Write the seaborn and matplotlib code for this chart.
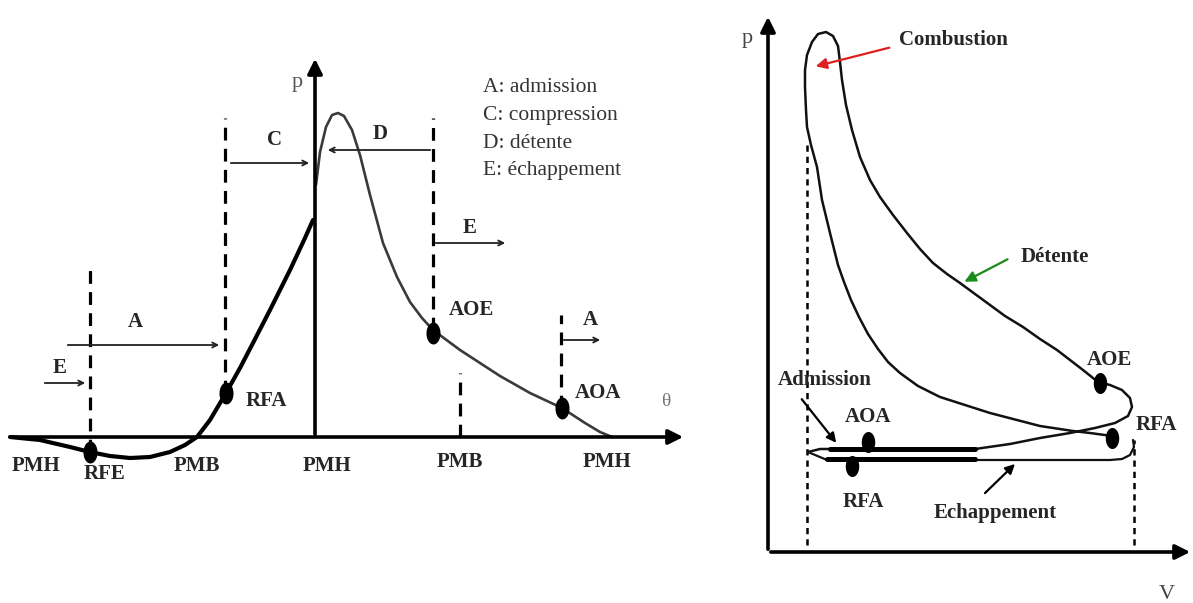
import numpy as np
import matplotlib
matplotlib.use('Agg')
import matplotlib.pyplot as plt
from matplotlib.path import Path
import seaborn as sns

# ---------------- left panel: p(theta), theta axis at p = 0 ----------------
INTAKE_THETA = [10, 40, 70, 90, 110, 130, 150, 170, 185, 197, 210, 226, 240, 253, 270, 290, 305, 313]
INTAKE_P     = [0, -3, -10, -15, -19, -21, -20, -15, -8, 0, 17, 44, 69, 94, 127, 167, 199, 217]
EXPAN_THETA  = [316, 320, 326, 332, 338, 344, 352, 360, 370, 383, 397, 410, 422, 433, 460, 500, 530, 562, 585, 600, 612]
EXPAN_P      = [252, 285, 310, 322, 324, 321, 307, 282, 242, 194, 160, 135, 119, 107, 87, 61, 44, 29, 14, 5, 0]

EVENT_NAMES = ['RFE', 'RFA', 'AOE', 'AOA']
EVENT_THETA = [90, 226, 433, 562]
EVENT_P     = [-15, 44, 104, 29]
EVENT_TXT   = [(105, -37), (266, 36), (471, 127), (598, 44)]

GUIDE_THETA = [90, 225, 433, 460, 561]
GUIDE_LOW   = [-15, 44, 107, 0, 29]
GUIDE_HIGH  = [169, 319, 319, 64, 122]

PHASE_LABELS = ['E', 'A', 'C', 'D', 'E', 'A']
PHASE_START  = [42, 65, 228, 433, 433, 561]
PHASE_END    = [88, 222, 312, 325, 508, 603]
PHASE_P      = [54, 92, 274, 287, 194, 97]
PHASE_TXT    = [(60, 69), (135, 115), (275, 297), (380, 303), (470, 209), (590, 117)]

DEAD_LABELS = ['PMH', 'PMB', 'PMH', 'PMB', 'PMH']
DEAD_THETA  = [36, 197, 327, 460, 607]
DEAD_P      = [-29, -29, -29, -25, -25]

LEGEND_LINES = ['A: admission', 'C: compression', 'D: détente', 'E: échappement']

# ---------------- right panel: p(V) indicator diagram ----------------
LOOP_V = [344, 322, 305, 272, 222, 172, 150, 132, 120, 110, 100, 91, 83, 76, 70, 62, 54, 49, 43, 39, 38, 37,
          37, 39, 44, 50, 58, 65, 70, 72, 74, 78, 84, 92, 102, 112, 125, 139, 152, 165, 179, 192,
          207, 222, 237, 255, 272, 289, 302, 315, 330,
          342, 354, 362, 364, 360, 347, 327, 302, 272, 242, 207, 132, 52, 40]
LOOP_P = [116, 119, 121, 126, 139, 155, 166, 179, 190, 203, 218, 235, 252, 270, 287, 319, 352, 385, 407, 425, 442, 465,
          482, 497, 510, 518, 520, 516, 506, 490, 472, 447, 422, 395, 372, 355, 337, 319, 303, 289, 278, 269,
          258, 247, 236, 225, 213, 202, 192, 182, 170,
          167, 162, 154, 145, 136, 129, 124, 119, 114, 108, 103, 103, 103, 100]
LOWER_V = [40, 59, 207, 342, 354, 362, 366, 365]
LOWER_P = [100, 92, 92, 92, 93, 97, 105, 112]
THICK_V = [[62, 207], [59, 207]]
THICK_P = [[103, 103], [93, 93]]

PV_EVENTS = ['AOA', 'RFA', 'AOE', 'RFA']
PV_EV_V   = [100, 84, 332, 344]
PV_EV_P   = [110, 86, 169, 114]
PV_EV_TXT = [(100, 135), (95, 50), (341, 192), (388, 127)]

PV_GUIDE_V    = [39, 366]
PV_GUIDE_HIGH = [412, 112]


def ellipse_marker():
    t = np.linspace(0, 2 * np.pi, 40)
    return Path(np.column_stack([0.64 * np.cos(t), np.sin(t)]), closed=True)


def line(ax, x, y, color='black', lw=2.0):
    sns.lineplot(x=x, y=y, sort=False, estimator=None, color=color,
                 linewidth=lw, legend=False, ax=ax)


sns.set_style('white')
plt.rcParams['font.family'] = ['Liberation Serif', 'DejaVu Serif']

fig = plt.figure(figsize=(11.93, 6.03), dpi=100)
ax1 = fig.add_axes([0, 0, 700 / 1193, 1])
ax2 = fig.add_axes([700 / 1193, 0, 493 / 1193, 1])
ax1.set_xlim(0, 700); ax1.set_ylim(-166, 437)
ax2.set_xlim(-68, 425); ax2.set_ylim(-51, 552)
for ax in (ax1, ax2):
    ax.axis('off')

bold = dict(fontsize=15, fontweight='bold', ha='center', va='center')
arrow_ax = dict(arrowstyle='-|>', color='black', lw=2.6, mutation_scale=22)

# ---- left panel
ax1.annotate('', xy=(686, 0), xytext=(8, 0), arrowprops=arrow_ax)
ax1.annotate('', xy=(315, 381), xytext=(315, 0), arrowprops=arrow_ax)
ax1.vlines(GUIDE_THETA, GUIDE_LOW, GUIDE_HIGH, colors='black', lw=2.3,
           linestyles=(0, (4, 2.6)))
line(ax1, INTAKE_THETA, INTAKE_P, lw=3.0)
line(ax1, EXPAN_THETA, EXPAN_P, color='#3a3a3a', lw=1.9)
sns.scatterplot(x=EVENT_THETA, y=EVENT_P, marker=ellipse_marker(), s=250,
                color='black', linewidth=0, ax=ax1, zorder=5)
for s0, s1, p in zip(PHASE_START, PHASE_END, PHASE_P):
    ax1.annotate('', xy=(s1, p), xytext=(s0, p),
                 arrowprops=dict(arrowstyle='->', color='#222', lw=1.3, mutation_scale=9))
for lab, (tx, ty) in zip(PHASE_LABELS, PHASE_TXT):
    ax1.text(tx, ty, lab, **bold)
for lab, tx, ty in zip(DEAD_LABELS, DEAD_THETA, DEAD_P):
    ax1.text(tx, ty, lab, **bold)
for lab, (tx, ty) in zip(EVENT_NAMES, EVENT_TXT):
    ax1.text(tx, ty, lab, **bold)
ax1.text(297, 355, 'p', fontsize=16, color='#555', ha='center', va='center')
ax1.text(666, 36, 'θ', fontsize=14, color='#777', ha='center', va='center')
for i, txt in enumerate(LEGEND_LINES):
    ax1.text(483, 349 - 27.5 * i, txt, fontsize=15.5, color='#333', ha='left', va='center')

# ---- right panel
ax2.annotate('', xy=(0, 538), xytext=(0, 0), arrowprops=arrow_ax)
ax2.annotate('', xy=(425, 0), xytext=(0, 0), arrowprops=arrow_ax)
ax2.vlines(PV_GUIDE_V, 7, PV_GUIDE_HIGH, colors='black', lw=1.8,
           linestyles=(0, (2.5, 2)))
line(ax2, LOOP_V, LOOP_P, color='#111', lw=1.8)
line(ax2, LOWER_V, LOWER_P, color='#111', lw=1.6)
for xv, yv in zip(THICK_V, THICK_P):
    line(ax2, xv, yv, color='black', lw=3.6)
sns.scatterplot(x=PV_EV_V, y=PV_EV_P, marker=ellipse_marker(), s=230,
                color='black', linewidth=0, ax=ax2, zorder=5)
for lab, (tx, ty) in zip(PV_EVENTS, PV_EV_TXT):
    ax2.text(tx, ty, lab, **bold)
ax2.text(185, 512, 'Combustion', **bold)
ax2.text(287, 295, 'Détente', **bold)
ax2.text(57, 172, 'Admission', **bold)
ax2.text(227, 39, 'Echappement', **bold)
ax2.text(-21, 514, 'p', fontsize=16, color='#444', ha='center', va='center')
ax2.text(399, -33, 'V', fontsize=16, color='#444', ha='center', va='top')
ax2.annotate('', xy=(45, 485), xytext=(124, 505),
             arrowprops=dict(arrowstyle='-|>', color='#e02020', lw=1.6, mutation_scale=16))
ax2.annotate('', xy=(194, 269), xytext=(242, 294),
             arrowprops=dict(arrowstyle='-|>', color='#1a8a1a', lw=1.6, mutation_scale=16))
ax2.annotate('', xy=(70, 107), xytext=(32, 155),
             arrowprops=dict(arrowstyle='-|>', color='black', lw=1.6, mutation_scale=14))
ax2.annotate('', xy=(249, 90), xytext=(215, 57),
             arrowprops=dict(arrowstyle='-|>', color='black', lw=1.6, mutation_scale=14))

fig.savefig('out.png', dpi=100)
